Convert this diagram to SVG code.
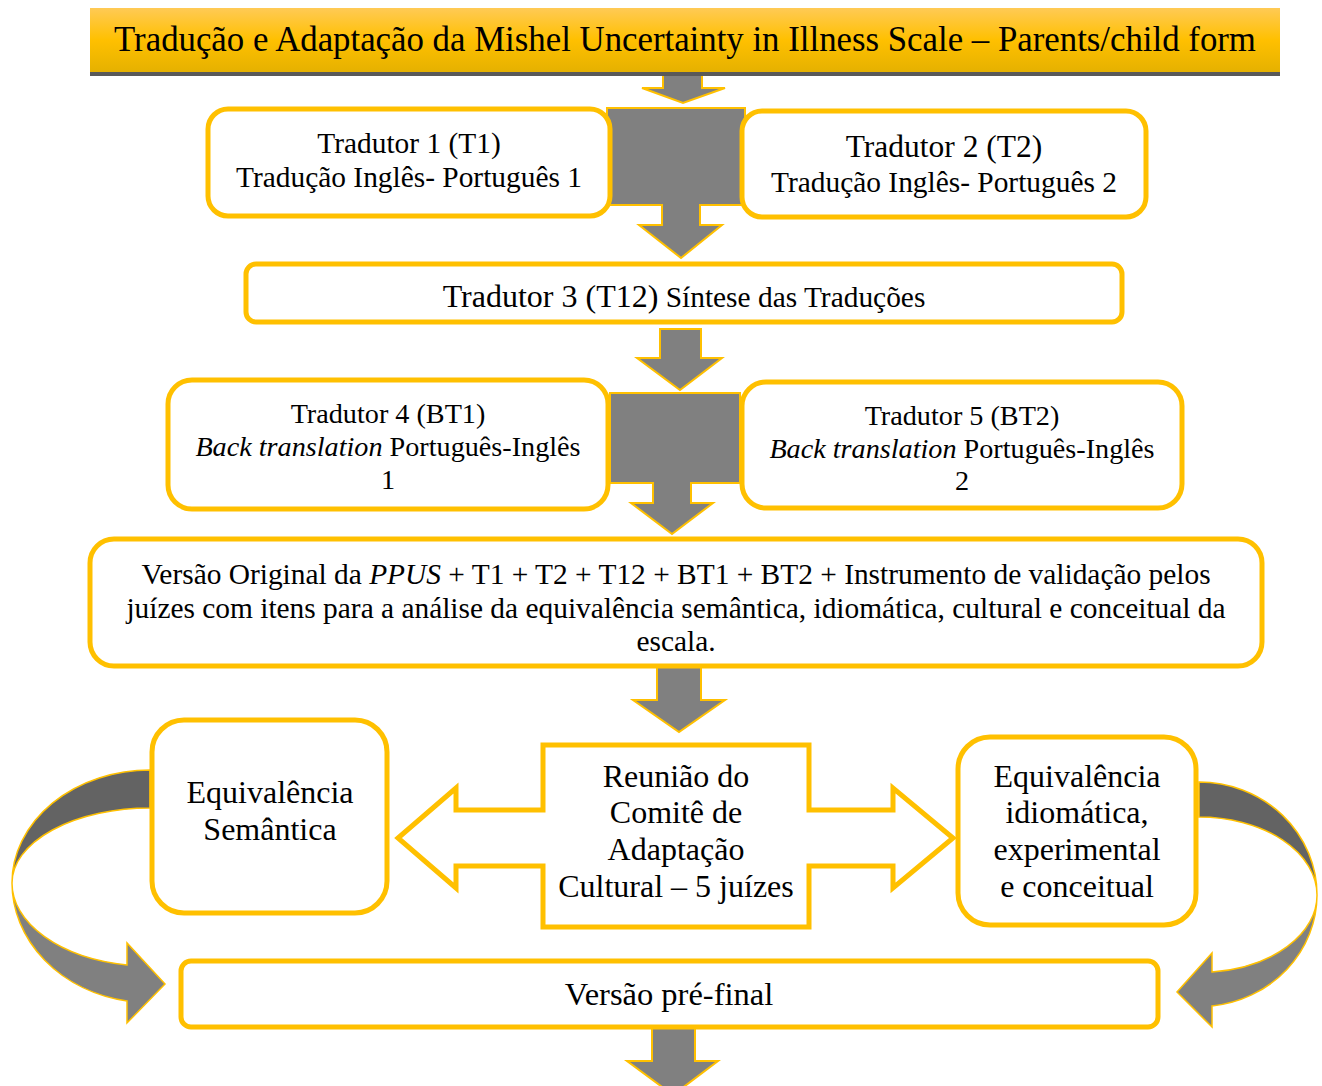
<svg xmlns="http://www.w3.org/2000/svg" width="1322" height="1086" viewBox="0 0 1322 1086">
<defs>
<linearGradient id="hdr" x1="0" y1="0" x2="0" y2="1">
<stop offset="0" stop-color="#FFCA55"/>
<stop offset="0.5" stop-color="#FFC000"/>
<stop offset="1" stop-color="#E5B100"/>
</linearGradient>
<style>
.box{fill:#fff;stroke:#FFC000;stroke-width:5}
.arr{fill:#808080;stroke:#FFC000;stroke-width:2;stroke-linejoin:miter}
.dk{fill:#636363;stroke:#FFC000;stroke-width:1.5}
.lt{fill:#808080;stroke:#FFC000;stroke-width:1.5}
text{font-family:"Liberation Serif","Times New Roman",serif;fill:#000;text-anchor:middle}
.t28{font-size:28.2px}
.t29{font-size:29.4px}
.t32{font-size:32px}
</style>
</defs>
<rect width="1322" height="1086" fill="#fff"/>

<g id="connectors">
<polygon class="arr" points="663,72 702,72 702,88 725,88 683,103 642,88 663,88"/>
<polygon class="arr" points="607,108 745,108 745,205 700,205 700,225 722,225 681,258 639,225 662,225 662,205 607,205"/>
<polygon class="arr" points="660,329 701,329 701,358 722,358 680,390 637,358 660,358"/>
<polygon class="arr" points="610,393 740,393 740,483 691,483 691,503 713,503 672,534 631,503 653,503 653,483 610,483"/>
<polygon class="arr" points="657,667 701,667 701,700 725,700 679,732 633,700 657,700"/>
<polygon class="arr" points="652,1028 695,1028 695,1061 718,1061 673,1095 627,1061 652,1061"/>
<path class="dk" d="M150,770 A138,113 0 0 0 12,883 A138,75 0 0 1 150,808 Z"/>
<path class="lt" d="M12,883 A138,120 0 0 0 127,1001 L127,1023 L165,984 L127,943 L127,965 A138,83 0 0 1 12,883 Z"/>
<path class="dk" d="M1199,782 A118,113 0 0 1 1317,895 A118,78 0 0 0 1199,817 Z"/>
<path class="lt" d="M1317,895 A118,112 0 0 1 1212,1006 L1212,1027 L1177,992 L1212,953 L1212,972 A118,77 0 0 0 1317,895 Z"/>
</g>

<g id="header">
<rect x="90" y="8" width="1190" height="64" fill="url(#hdr)"/>
<rect x="90" y="72" width="1190" height="4" fill="#595959"/>
<text x="685" y="51" style="font-size:34.8px">Tradução e Adaptação da Mishel Uncertainty in Illness Scale – Parents/child form</text>
</g>

<g id="t1">
<rect class="box" x="208" y="109" width="402" height="107" rx="20"/>
<text class="t29" x="409" y="153">Tradutor 1 (T1)</text>
<text class="t29" x="409" y="187">Tradução Inglês- Português 1</text>
</g>

<g id="t2">
<rect class="box" x="742" y="111" width="404" height="106" rx="20"/>
<text x="944" y="157" style="font-size:31.5px">Tradutor 2 (T2)</text>
<text class="t29" x="944" y="192">Tradução Inglês- Português 2</text>
</g>

<g id="t12">
<rect class="box" x="246" y="264" width="876" height="58" rx="10"/>
<text x="684" y="307"><tspan style="font-size:32px">Tradutor 3 (T12)</tspan><tspan class="t29"> Síntese das Traduções</tspan></text>
</g>

<g id="bt1">
<rect class="box" x="168" y="380" width="440" height="129" rx="24"/>
<text class="t28" x="388" y="423">Tradutor 4 (BT1)</text>
<text class="t28" x="388" y="456"><tspan font-style="italic">Back translation</tspan> Português-Inglês</text>
<text class="t28" x="388" y="489">1</text>
</g>

<g id="bt2">
<rect class="box" x="742" y="382" width="440" height="126" rx="24"/>
<text class="t28" x="962" y="425">Tradutor 5 (BT2)</text>
<text class="t28" x="962" y="458"><tspan font-style="italic">Back translation</tspan> Português-Inglês</text>
<text class="t28" x="962" y="490">2</text>
</g>

<g id="versao-original">
<rect class="box" x="90" y="539" width="1172" height="127" rx="24"/>
<text class="t29" x="676" y="584">Versão Original da <tspan font-style="italic">PPUS</tspan> + T1 + T2 + T12 + BT1 + BT2 + Instrumento de validação pelos</text>
<text class="t29" x="676" y="618">juízes com itens para a análise da equivalência semântica, idiomática, cultural e conceitual da</text>
<text class="t29" x="676" y="651">escala.</text>
</g>

<g id="semantica">
<rect class="box" x="152" y="720" width="235" height="193" rx="32"/>
<text class="t32" x="270" y="803">Equivalência</text>
<text class="t32" x="270" y="840">Semântica</text>
</g>

<g id="reuniao">
<polygon points="543,745 809,745 809,810 893,810 893,788 953,838 893,888 893,866 809,866 809,927 543,927 543,866 456,866 456,888 398,838 456,788 456,810 543,810" fill="#fff" stroke="#FFC000" stroke-width="5"/>
<text class="t32" x="676" y="787">Reunião do</text>
<text class="t32" x="676" y="823">Comitê de</text>
<text class="t32" x="676" y="860">Adaptação</text>
<text class="t32" x="676" y="897">Cultural – 5 juízes</text>
</g>

<g id="idiomatica">
<rect class="box" x="958" y="737" width="238" height="188" rx="32"/>
<text class="t32" x="1077" y="787">Equivalência</text>
<text class="t32" x="1077" y="823">idiomática,</text>
<text class="t32" x="1077" y="860">experimental</text>
<text class="t32" x="1077" y="897">e conceitual</text>
</g>

<g id="pre-final">
<rect class="box" x="181" y="961" width="977" height="66" rx="10"/>
<text x="669" y="1005" style="font-size:32.5px">Versão pré-final</text>
</g>
</svg>
